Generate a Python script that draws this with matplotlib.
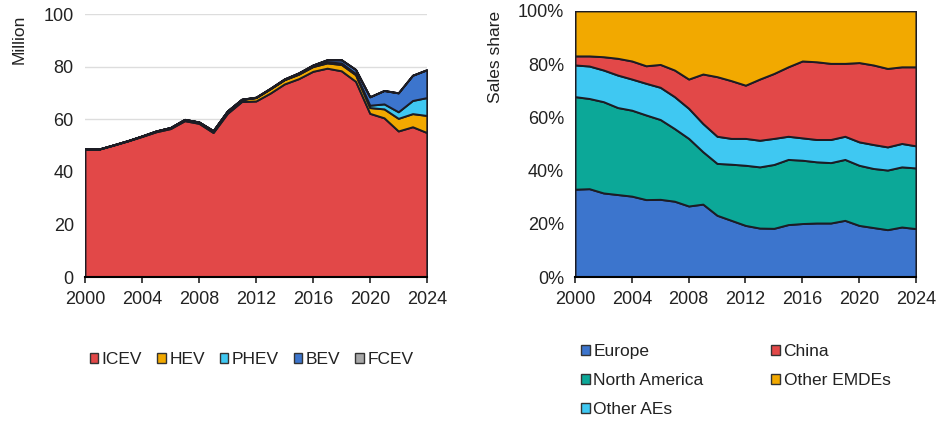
import numpy as np
import matplotlib
matplotlib.use("Agg")
import matplotlib.pyplot as plt
from matplotlib.patches import Patch

plt.rcParams['font.family'] = ['Liberation Sans', 'DejaVu Sans']

years = np.arange(2000, 2025)

# Global car sales by powertrain, million
icev = [48.7, 48.7, 50.2, 51.8, 53.5, 55.3, 56.5, 59.5, 58.5, 55.0, 62.3, 66.8,
        67.0, 70.0, 73.5, 75.5, 78.3, 79.5, 78.5, 74.5, 62.3, 60.6, 55.6, 57.2, 55.0]
hev = [0.0, 0.05, 0.1, 0.1, 0.2, 0.3, 0.4, 0.5, 0.5, 0.7, 0.9, 0.8,
       1.3, 1.6, 1.6, 1.7, 1.8, 2.0, 2.4, 2.5, 2.2, 3.4, 4.8, 5.0, 6.5]
phev = [0, 0, 0, 0, 0, 0, 0, 0, 0, 0, 0, 0.02,
        0.05, 0.1, 0.1, 0.2, 0.2, 0.4, 0.6, 0.5, 0.9, 1.9, 2.5, 5.0, 6.8]
bev = [0, 0, 0, 0, 0, 0, 0, 0, 0, 0, 0, 0.05,
       0.1, 0.1, 0.2, 0.3, 0.4, 0.8, 1.2, 1.5, 3.2, 5.1, 7.2, 9.6, 10.6]
fcev = [0] * 14 + [0.01] * 11

# Regional shares of sales, %
europe = [33.0, 33.2, 31.6, 31.0, 30.4, 29.1, 29.2, 28.5, 26.7, 27.4, 23.2, 21.3,
          19.4, 18.4, 18.3, 19.7, 20.1, 20.3, 20.3, 21.3, 19.4, 18.6, 17.8, 18.8, 18.2]
north_america = [34.8, 33.9, 34.3, 32.7, 32.3, 31.8, 30.0, 27.3, 25.4, 19.7, 19.5, 21.1,
                 22.6, 23.0, 24.0, 24.5, 23.8, 23.0, 22.7, 22.9, 22.6, 22.2, 22.4, 22.6, 22.8]
other_aes = [11.9, 12.2, 11.9, 12.2, 11.7, 11.9, 12.1, 12.0, 11.3, 10.6, 10.2, 9.7,
             10.1, 10.0, 9.8, 8.7, 8.4, 8.4, 8.7, 8.7, 8.8, 9.0, 8.7, 8.8, 8.3]
china = [3.4, 3.8, 5.0, 6.3, 6.8, 6.6, 8.6, 10.0, 11.0, 18.6, 22.4, 21.7,
         20.0, 23.0, 24.4, 26.1, 28.9, 29.2, 28.6, 27.4, 29.8, 29.9, 29.5, 28.8, 29.7]
other_emdes = [16.9, 16.9, 17.2, 17.8, 18.8, 20.6, 20.1, 22.2, 25.6, 23.7, 24.7, 26.2,
               27.9, 25.6, 23.5, 21.0, 18.8, 19.1, 19.7, 19.7, 19.4, 20.3, 21.6, 21.0, 21.0]

pt_labels = ['ICEV', 'HEV', 'PHEV', 'BEV', 'FCEV']
pt_colors = ['#E24848', '#F2A900', '#3FC8F2', '#3C75CD', '#A8A8A8']
reg_labels = ['Europe', 'North America', 'Other AEs', 'China', 'Other EMDEs']
reg_colors = ['#3C75CD', '#0CA898', '#3FC8F2', '#E24848', '#F2A900']

edge = '#1c1c24'
xticks = np.arange(2000, 2025, 4)

fig = plt.figure(figsize=(9.39, 4.21), dpi=100)
ax1 = fig.add_axes([0.0905, 0.342, 0.364, 0.624])
ax2 = fig.add_axes([0.6124, 0.342, 0.363, 0.632])


def style_axis(ax):
    ax.set_xlim(2000, 2024)
    ax.set_xticks(xticks)
    for s in ['top', 'right', 'left']:
        ax.spines[s].set_visible(False)
    ax.spines['bottom'].set_color('black')
    ax.spines['bottom'].set_linewidth(1.5)
    ax.spines['bottom'].set_zorder(5)
    ax.tick_params(axis='x', direction='out', length=4, width=1.2, pad=6,
                   labelsize=13, colors='#222222')
    ax.tick_params(axis='y', length=0, pad=8, labelsize=13, colors='#222222')


# Left: sales by powertrain
ax1.stackplot(years, icev, hev, phev, bev, fcev, colors=pt_colors,
              edgecolor=edge, linewidth=1.4, zorder=2)
ax1.set_ylim(0, 100)
ax1.set_yticks(np.arange(0, 101, 20))
ax1.grid(axis='y', color='#DDDDDD', linewidth=1, zorder=0)
ax1.set_axisbelow(True)
style_axis(ax1)
ax1.set_ylabel('Million', fontsize=12.5, loc='top', color='#222222')
ax1.yaxis.set_label_coords(-0.17, 1.0)

# Right: regional sales share
ax2.stackplot(years, europe, north_america, other_aes, china, other_emdes,
              colors=reg_colors, edgecolor=edge, linewidth=1.4, zorder=2)
ax2.set_ylim(0, 100)
ax2.set_yticks(np.arange(0, 101, 20))
ax2.set_yticklabels([f'{v}%' for v in range(0, 101, 20)])
style_axis(ax2)
ax2.set_ylabel('Sales share', fontsize=12.5, loc='top', color='#222222')
ax2.yaxis.set_label_coords(-0.21, 1.0)

leg_kw = dict(frameon=False, fontsize=12.5, handlelength=0.5, handleheight=0.5,
              handletextpad=0.2, borderpad=0, borderaxespad=0,
              labelcolor='#222222')

h1 = [Patch(facecolor=c, edgecolor='#333333', linewidth=1) for c in pt_colors]
fig.legend(h1, pt_labels, loc='center left', bbox_to_anchor=(0.0955, 0.145),
           ncol=5, columnspacing=0.85, **leg_kw)

h2 = [Patch(facecolor=c, edgecolor='#333333', linewidth=1) for c in reg_colors]
fig.legend(h2, reg_labels, loc='upper left', bbox_to_anchor=(0.619, 0.183),
           ncol=2, columnspacing=3.9, labelspacing=0.8, **leg_kw)

fig.savefig('out.png', dpi=100)
